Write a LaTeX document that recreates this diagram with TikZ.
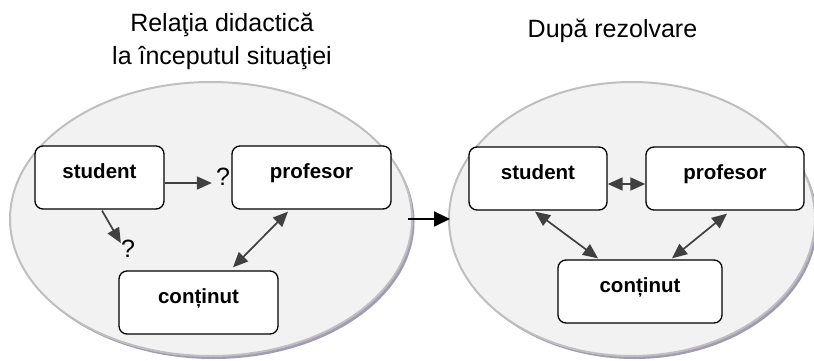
\documentclass[tikz,border=0pt]{standalone}
\usepackage{fontspec}
\setmainfont{Liberation Sans}
\usetikzlibrary{arrows.meta,calc}
\definecolor{bubblefill}{HTML}{F2F2F2}
\definecolor{bubbleedge}{HTML}{BFBFBF}
\definecolor{bubbleshade}{HTML}{A29CB2}
\definecolor{linkgray}{HTML}{404040}
\begin{document}
\begin{tikzpicture}[x=1pt,y=-1pt,
  bubble/.style={fill=bubblefill,draw=bubbleedge,line width=2pt},
  shade/.style={fill=bubbleshade},
  stepbox/.style={draw=black,line width=1.3pt,rounded corners=8pt,fill=white,
    font=\bfseries\fontsize{20.5}{24}\selectfont,inner xsep=0pt,inner ysep=0pt,
    text height=32pt,text depth=31pt,minimum height=63pt},
  qmark/.style={font=\fontsize{25}{28}\selectfont,inner sep=0pt},
  title/.style={font=\fontsize{25}{33}\selectfont,align=center,inner sep=0pt},
  link/.style={draw=linkgray,line width=1.7pt,-{Triangle[length=15pt,width=13pt]}},
  duplex/.style={draw=linkgray,line width=1.7pt,{Triangle[length=15pt,width=13pt]}-{Triangle[length=15pt,width=13pt]}},
  pass/.style={draw=black,line width=1.8pt,-{Triangle[length=16pt,width=15pt]}}]
\useasboundingbox (0,0) rectangle (814,361);

% two situations: shadowed ellipses
\fill[shade] (213.5,222) ellipse [x radius=201,y radius=137];
\path[bubble] (211,219) ellipse [x radius=201,y radius=137];
\fill[shade] (634.5,222) ellipse [x radius=183,y radius=137];
\path[bubble] (632,219) ellipse [x radius=183,y radius=137];

% titles
\node[title] (t1) at (222,41) {Relaţia didactică\\la începutul situaţiei};
\node[title] (t2) at (612.5,31) {După rezolvare};

% left: at the start of the situation
\node[stepbox,minimum width=129pt] (Ls) at (99.5,177.5) {student};
\node[stepbox,minimum width=159pt] (Lp) at (311.5,177.5) {profesor};
\node[stepbox,minimum width=159pt] (Lc) at (198.5,302.5) {conținut};
\node[qmark] (q1) at (223,177) {?};
\node[qmark] (q2) at (128,249) {?};

\draw[link] ($(Ls.east)+(0,5.5)$) -- ($(q1.west)+(-4,6)$);
\draw[link] ($(Ls.south)+(2.5,1)$) -- ($(q2.north west)+(0,3)$);
\draw[duplex] ($(Lp.south)+(-23.5,2)$) -- ($(Lc.north)+(34.5,-3)$);

% right: after solving
\node[stepbox,minimum width=138pt] (Rs) at (538,178.5) {student};
\node[stepbox,minimum width=158pt] (Rp) at (725,178.5) {profesor};
\node[stepbox,minimum width=164pt] (Rc) at (640,291.5) {conținut};

\draw[duplex] ($(Rs.east)+(0,5.5)$) -- ($(Rp.west)+(0,5.5)$);
\draw[duplex] ($(Rs.south)+(-3,1)$) -- ($(Rc.north)+(-42,-1)$);
\draw[duplex] ($(Rp.south)+(2,3)$) -- ($(Rc.north)+(32,-1)$);

% transition between the two situations
\coordinate (leftrim) at (408,219);
\coordinate (rightrim) at (450,219);
\draw[pass] (leftrim) -- (rightrim);
\end{tikzpicture}
\end{document}
